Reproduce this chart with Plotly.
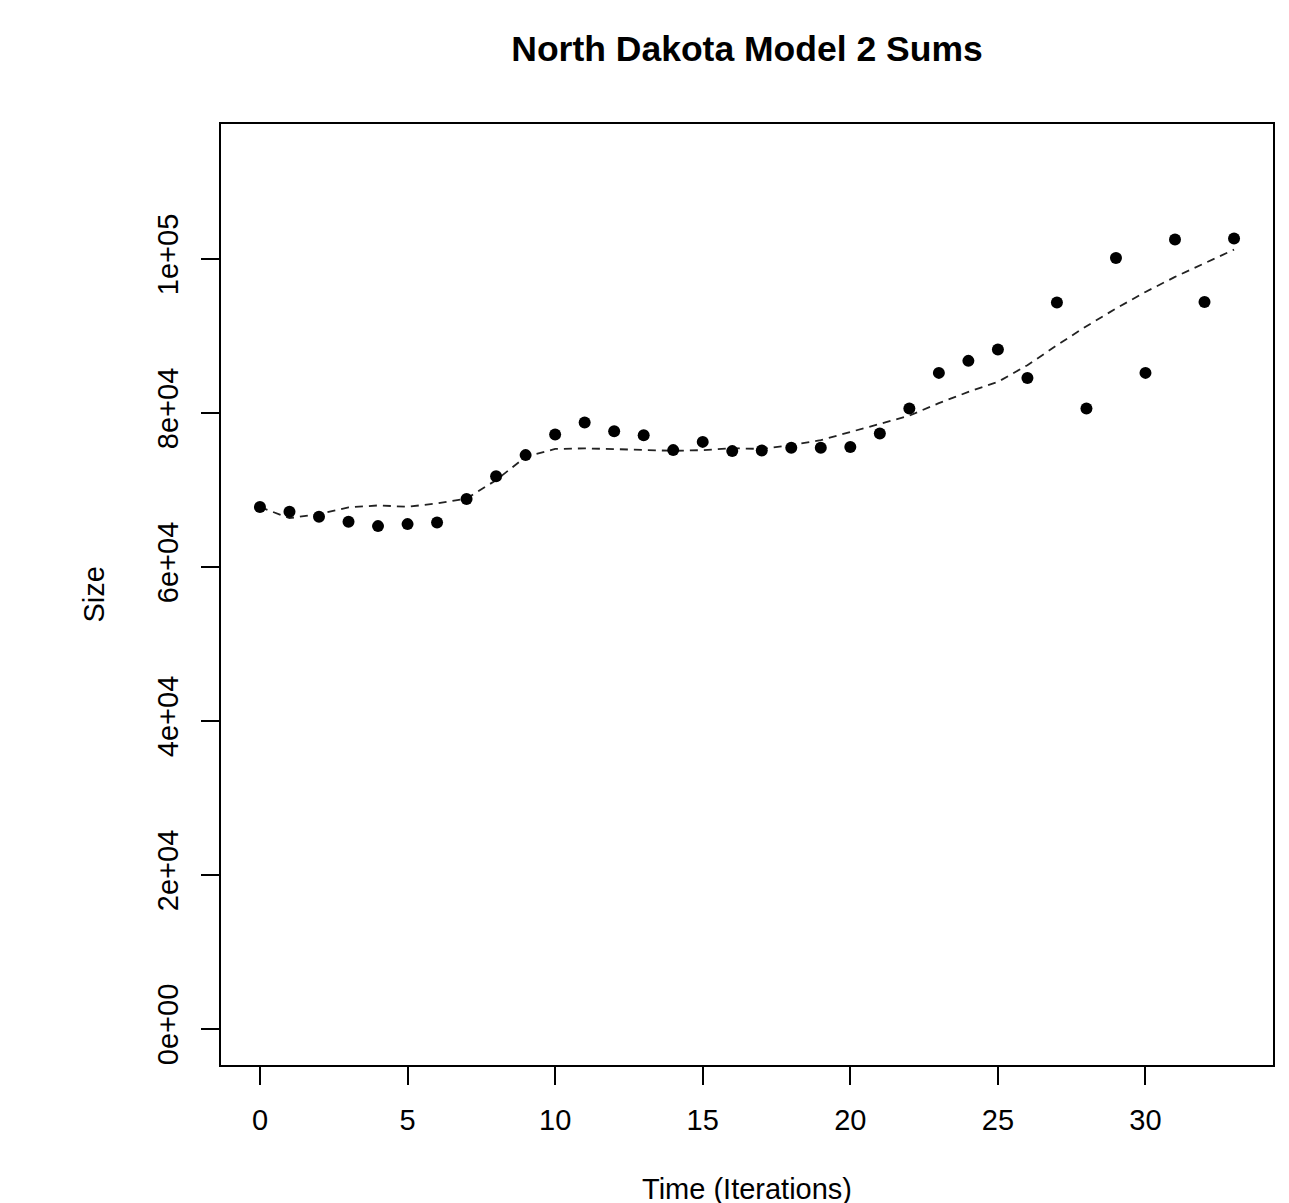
import plotly.graph_objects as go

iterations = list(range(34))
sizes = [67750, 67140, 66490, 65840, 65280, 65540, 65760, 68790, 71770, 74500,
         77180, 78740, 77610, 77090, 75150, 76220, 75020, 75110, 75450, 75450,
         75540, 77310, 80560, 85180, 86740, 88220, 84530, 94310, 80560, 100100,
         85180, 102490, 94390, 102620]
smooth = [67750, 66320, 66840, 67710, 67970, 67790, 68230, 68870, 71250, 74280,
          75300, 75380, 75280, 75150, 75060, 75150, 75400, 75300, 75800, 76440,
          77520, 78580, 79620, 81250, 82710, 84010, 86180, 88770, 91240, 93540,
          95690, 97640, 99380, 101190]
y_tickvals = [0, 20000, 40000, 60000, 80000, 100000]
y_ticktext = ["0e+00", "2e+04", "4e+04", "6e+04", "8e+04", "1e+05"]
x_tickvals = [0, 5, 10, 15, 20, 25, 30]

FONT = "Liberation Sans, Arial, sans-serif"

# page offset (body margin) compensation
OFF = 8
W, H = 1289, 1203
L, R, T, B = 221 - OFF, 16 + OFF, 124 - OFF, 138 + OFF
PW = W - L - R
PH = H - T - B

fig = go.Figure()
fig.add_trace(go.Scatter(x=iterations, y=smooth, mode="lines",
                         line=dict(color="#222222", width=1.8, dash="8px,6px"),
                         showlegend=False, hoverinfo="skip"))
fig.add_trace(go.Scatter(x=iterations, y=sizes, mode="markers",
                         marker=dict(color="black", size=12),
                         showlegend=False))

fig.update_layout(
    width=W, height=H,
    margin=dict(l=L, r=R, t=T, b=B),
    paper_bgcolor="white", plot_bgcolor="white",
    font=dict(family=FONT, color="black", size=29),
    title=dict(text="<b>North Dakota Model 2 Sums</b>", font=dict(size=35.5, family=FONT, color="black"),
               x=0.5, xref="paper", xanchor="center", y=1 - (49 - OFF) / H, yref="container",
               yanchor="middle"),
    xaxis=dict(range=[-1.32, 34.32], tickvals=x_tickvals, showgrid=False, zeroline=False,
               showline=True, linecolor="black", linewidth=1.5, mirror=True,
               ticks="outside", ticklen=18, tickwidth=1.5, tickcolor="black",
               tickfont=dict(size=29), ticklabelstandoff=10),
    yaxis=dict(range=[-4700, 117500], tickvals=y_tickvals, ticktext=y_ticktext, showgrid=False,
               zeroline=False, showline=True, linecolor="black", linewidth=1.5, mirror=True,
               ticks="outside", ticklen=18, tickwidth=1.5, tickcolor="black",
               tickangle=-90, tickfont=dict(size=29), ticklabelstandoff=12),
    annotations=[
        dict(text="Size", x=(93 - 221) / PW, xref="paper", y=0.5, yref="paper", showarrow=False,
             textangle=-90, font=dict(size=29), xanchor="center", yanchor="middle"),
        dict(text="Time (Iterations)", x=0.5, xref="paper", y=(1065 - 1189) / PH, yref="paper",
             showarrow=False, font=dict(size=29), xanchor="center", yanchor="middle"),
    ],
)

fig.write_html("out.html")
